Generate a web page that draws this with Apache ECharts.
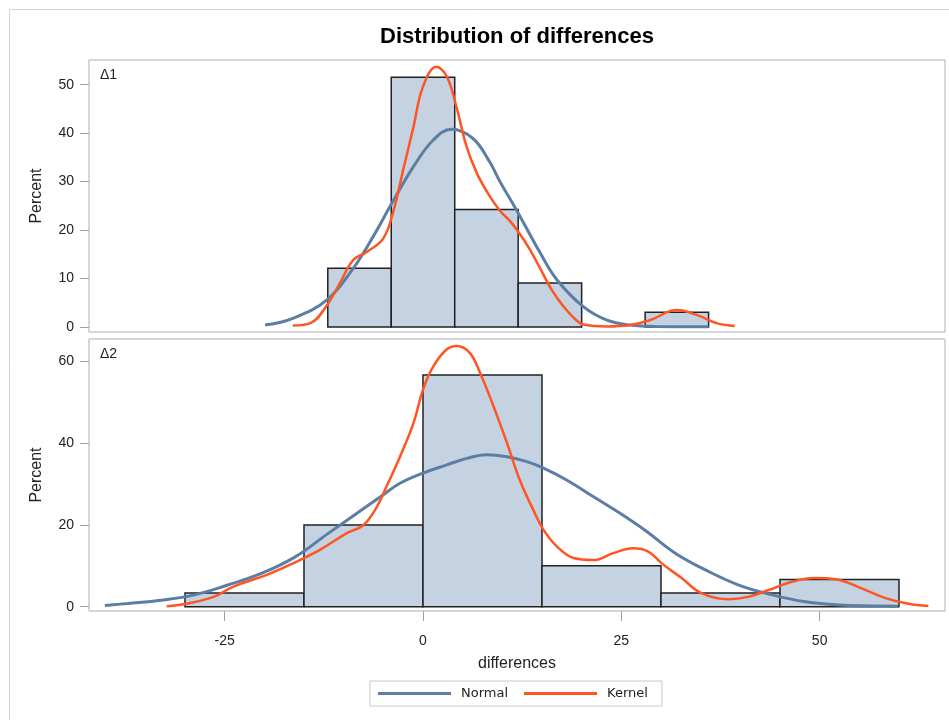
<!DOCTYPE html>
<html>
<head>
<meta charset="utf-8">
<script src="https://cdn.jsdelivr.net/npm/echarts@6/dist/echarts.min.js"></script>
<style>
* { margin: 0; padding: 0; }
body { background: #fff; }
#chart { width: 949px; height: 720px; }
</style>
</head>
<body>
<div id="chart"></div>
<script>
// histogram bins, delta 1
const bins1Lo = [-12, -4, 4, 12, 28]
const bins1Hi = [-4, 4, 12, 20, 36]
const bins1Pct = [12.12, 51.52, 24.24, 9.09, 3.03]

// histogram bins, delta 2
const bins2Lo = [-30, -15, 0, 15, 30, 45]
const bins2Hi = [-15, 0, 15, 30, 45, 60]
const bins2Pct = [3.33, 20, 56.67, 10, 3.33, 6.67]

// curves: [difference, percent]
const normal1 = [[-19.9, 0.4], [-16.4, 1.8], [-12.1, 5.6], [-8.8, 12.1], [-6.3, 18.6], [-3.7, 26.2], [-1.2, 33.1],
  [1.3, 38.6], [3.6, 40.8], [6.3, 38.9], [8.4, 34.1], [9.7, 30.0], [11.8, 24.1], [14.8, 15.2], [16.9, 9.7],
  [20.2, 4.2], [23.2, 1.4], [26.1, 0.4], [29.5, 0.1], [36, 0.05]]
const kernel1 = [[-16.4, 0.3], [-14.2, 0.8], [-12.1, 4.5], [-10.5, 9.0], [-8.8, 13.8], [-7.1, 15.5], [-5.0, 18.3],
  [-3.7, 24.1], [-2.5, 32.4], [-1.2, 41.3], [0.0, 49.6], [1.7, 53.7], [3.0, 51.7], [4.2, 45.5], [5.5, 37.2],
  [6.8, 31.7], [8.4, 27.0], [9.7, 24.0], [11.0, 21.8], [12.3, 19.0], [13.5, 15.9], [14.8, 12.0], [16.0, 8.3],
  [17.0, 5.8], [18.1, 3.5], [19.2, 1.6], [20.2, 0.5], [23.2, 0.1], [26.1, 0.4], [28.6, 1.4], [32.0, 3.5],
  [34.5, 2.5], [37.0, 0.8], [39.3, 0.2]]

const normal2 = [[-40.1, 0.3], [-37.2, 0.8], [-33.0, 1.6], [-28.8, 2.9], [-24.6, 5.3], [-20.3, 8.2], [-16.1, 12.2],
  [-11.9, 18.0], [-7.7, 23.7], [-5.0, 27.4], [-2.9, 30.2], [0.0, 32.7], [3.0, 34.7], [5.5, 36.3], [8.0, 37.2],
  [10.6, 36.7], [13.1, 35.5], [15.2, 33.9], [18.1, 31.0], [21.5, 26.9], [24.8, 22.9], [28.2, 18.4], [31.8, 13.1],
  [35.6, 9.0], [39.8, 5.3], [44.0, 2.9], [48.2, 1.2], [52.4, 0.4], [56.6, 0.2], [59.9, 0.1]]
const kernel2 = [[-32.3, 0.1], [-29.6, 0.8], [-26.4, 2.4], [-23.9, 4.9], [-19.7, 7.8], [-16.4, 10.6], [-13.0, 13.9],
  [-9.6, 18.0], [-7.5, 20.0], [-5.8, 24.5], [-4.6, 29.4], [-2.9, 36.7], [-1.2, 44.9], [0.0, 53.1], [1.3, 58.8],
  [3.0, 63.0], [4.3, 63.8], [5.9, 62.1], [7.2, 57.2], [8.9, 49.0], [10.6, 40.0], [12.2, 31.0], [13.9, 23.7],
  [15.2, 18.8], [16.9, 14.7], [19.0, 11.9], [21.5, 11.4], [24.0, 13.1], [26.5, 14.3], [28.4, 13.5], [30.1, 10.6],
  [32.6, 7.0], [35.1, 3.3], [38.5, 1.8], [41.0, 2.4], [43.6, 4.1], [46.5, 6.1], [49.4, 7.0], [52.0, 6.7],
  [55.3, 4.5], [58.3, 2.1], [61.2, 0.7], [63.7, 0.2]]

const xTicks = [-25, 0, 25, 50]
const y1Ticks = [0, 10, 20, 30, 40, 50]
const y2Ticks = [0, 20, 40, 60]

const FONT = 'Liberation Sans'
const BLUE = '#5b7ea5'
const ORANGE = '#ff5522'

function histSeries(lo, hi, pct, idx) {
  return {
    type: 'custom',
    xAxisIndex: idx,
    yAxisIndex: idx,
    silent: true,
    z: 1,
    data: lo.map((l, i) => [l, hi[i], pct[i]]),
    encode: { x: [0, 1], y: 2 },
    renderItem: (params, api) => {
      const p0 = api.coord([api.value(0), 0])
      const p1 = api.coord([api.value(1), api.value(2)])
      return {
        type: 'rect',
        shape: { x: p0[0], y: p1[1], width: p1[0] - p0[0], height: p0[1] - p1[1] },
        style: { fill: '#c5d2e2', stroke: '#222', lineWidth: 1.5 }
      }
    }
  }
}

function curve(name, data, color, idx, width) {
  return {
    name: name,
    type: 'line',
    xAxisIndex: idx,
    yAxisIndex: idx,
    data: data,
    smooth: 0.4,
    symbol: 'none',
    z: 3,
    lineStyle: { color: color, width: width },
    itemStyle: { color: color }
  }
}

function yAxis(idx, min, max, ticks) {
  return {
    type: 'value',
    gridIndex: idx,
    min: min,
    max: max,
    axisLine: { show: false, onZero: false },
    splitLine: { show: false },
    axisTick: { show: true, length: 9, customValues: ticks, lineStyle: { color: '#9aa3aa' } },
    axisLabel: { customValues: ticks, fontFamily: FONT, fontSize: 14, color: '#222', margin: 15 },
    name: 'Percent',
    nameLocation: 'middle',
    nameRotate: 90,
    nameGap: 44,
    nameTextStyle: { fontFamily: FONT, fontSize: 16, color: '#222' }
  }
}

const chart = echarts.init(document.getElementById('chart'))
chart.setOption({
  animation: false,
  backgroundColor: '#fff',
  grid: [
    { left: 89, top: 60, width: 856, height: 272, show: true, borderColor: '#aab1b7', borderWidth: 1 },
    { left: 89, top: 339, width: 856, height: 272, show: true, borderColor: '#aab1b7', borderWidth: 1 }
  ],
  xAxis: [
    {
      type: 'value', gridIndex: 0, min: -42.1, max: 65.8,
      axisLine: { show: false, onZero: false }, axisTick: { show: false }, axisLabel: { show: false }, splitLine: { show: false }
    },
    {
      type: 'value', gridIndex: 1, min: -42.1, max: 65.8,
      axisLine: { show: false, onZero: false },
      splitLine: { show: false },
      axisTick: { show: true, length: 10, customValues: xTicks, lineStyle: { color: '#9aa3aa' } },
      axisLabel: { customValues: xTicks, fontFamily: FONT, fontSize: 14, color: '#222', margin: 23 },
      name: 'differences',
      nameLocation: 'middle',
      nameGap: 45,
      nameTextStyle: { fontFamily: FONT, fontSize: 16, color: '#222' }
    }
  ],
  yAxis: [
    yAxis(0, -1.03, 55.1, y1Ticks),
    yAxis(1, -1.05, 65.5, y2Ticks)
  ],
  legend: {
    data: ['Normal', 'Kernel'],
    left: 370,
    top: 681,
    icon: 'rect',
    padding: [6, 14, 6, 8],
    itemWidth: 73,
    itemHeight: 3,
    itemGap: 16,
    borderColor: '#c8c8c8',
    borderWidth: 1,
    textStyle: { fontFamily: 'DejaVu Sans', fontSize: 13, color: '#222', padding: [1, 0, 0, 5] }
  },
  graphic: [
    { type: 'rect', silent: true,
      shape: { x: 9.5, y: 9.5, width: 980, height: 760 }, style: { fill: 'none', stroke: '#d2d2d2', lineWidth: 1 } },
    { type: 'text', x: 517, y: 26, silent: true,
      style: { text: 'Distribution of differences', align: 'center', fontFamily: FONT, fontSize: 22, fontWeight: 'bold', fill: '#000' } },
    { type: 'text', x: 100, y: 68, silent: true,
      style: { text: 'Δ1', fontFamily: FONT, fontSize: 14, fill: '#222' } },
    { type: 'text', x: 100, y: 347, silent: true,
      style: { text: 'Δ2', fontFamily: FONT, fontSize: 14, fill: '#222' } }
  ],
  series: [
    histSeries(bins1Lo, bins1Hi, bins1Pct, 0),
    histSeries(bins2Lo, bins2Hi, bins2Pct, 1),
    curve('Normal', normal1, BLUE, 0, 3),
    curve('Kernel', kernel1, ORANGE, 0, 2.5),
    curve('Normal', normal2, BLUE, 1, 3),
    curve('Kernel', kernel2, ORANGE, 1, 2.5)
  ]
})
</script>
</body>
</html>
